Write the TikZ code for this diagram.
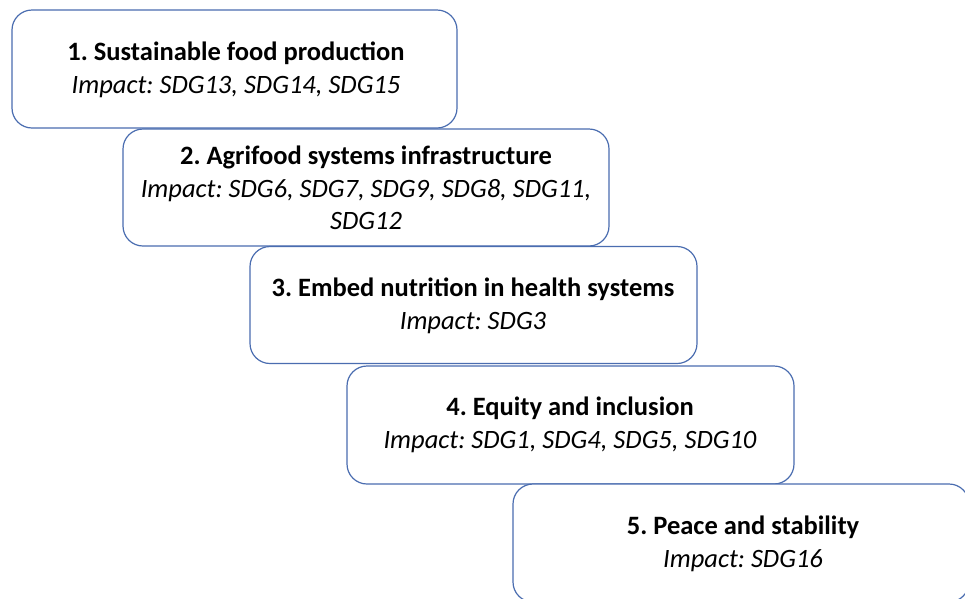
\documentclass[tikz,border=0pt]{standalone}
\usepackage{fontspec}
\setmainfont{Carlito}
\definecolor{boxblue}{HTML}{4A6DB0}
\tikzset{
  stagebox/.style={draw=boxblue, line width=1.2pt, fill=white, rounded corners=20pt, inner sep=0pt, minimum width=#1},
  stagebox/.default=447pt,
  stagetext/.style={align=center, inner sep=0pt, font=\fontsize{26.5}{32.5}\selectfont\frenchspacing, text=black}
}
\begin{document}
\begin{tikzpicture}[x=1pt,y=-1pt]
\useasboundingbox (0,0) rectangle (965,598);
\clip (0,0) rectangle (965,598);
\fill[white] (0,0) rectangle (965,598);
\node[stagebox=445pt, minimum height=118pt] (b1) at (234.5,69) {};
\node[stagebox=486pt, minimum height=117pt] (b2) at (366,187.5) {};
\node[stagebox=447pt, minimum height=117pt] (b3) at (473.5,305) {};
\node[stagebox=447pt, minimum height=118pt] (b4) at (570.5,425) {};
\node[stagebox=456pt, minimum height=118pt] (b5) at (741,543) {};
\node[stagetext] (t1) at (236,70) {\textbf{1. Sustainable food production}\\\textit{Impact: SDG13, SDG14, SDG15}};
\node[stagetext] (t2) at (366,188) {\textbf{2. Agrifood systems infrastructure}\\\textit{Impact: SDG6, SDG7, SDG9, SDG8, SDG11,}\\\textit{SDG12}};
\node[stagetext] (t3) at (473,306) {\textbf{3. Embed nutrition in health systems}\\\textit{Impact: SDG3}};
\node[stagetext] (t4) at (570,425) {\textbf{4. Equity and inclusion}\\\textit{Impact: SDG1, SDG4, SDG5, SDG10}};
\node[stagetext] (t5) at (743,544) {\textbf{5. Peace and stability}\\\textit{Impact: SDG16}};
\end{tikzpicture}
\end{document}
